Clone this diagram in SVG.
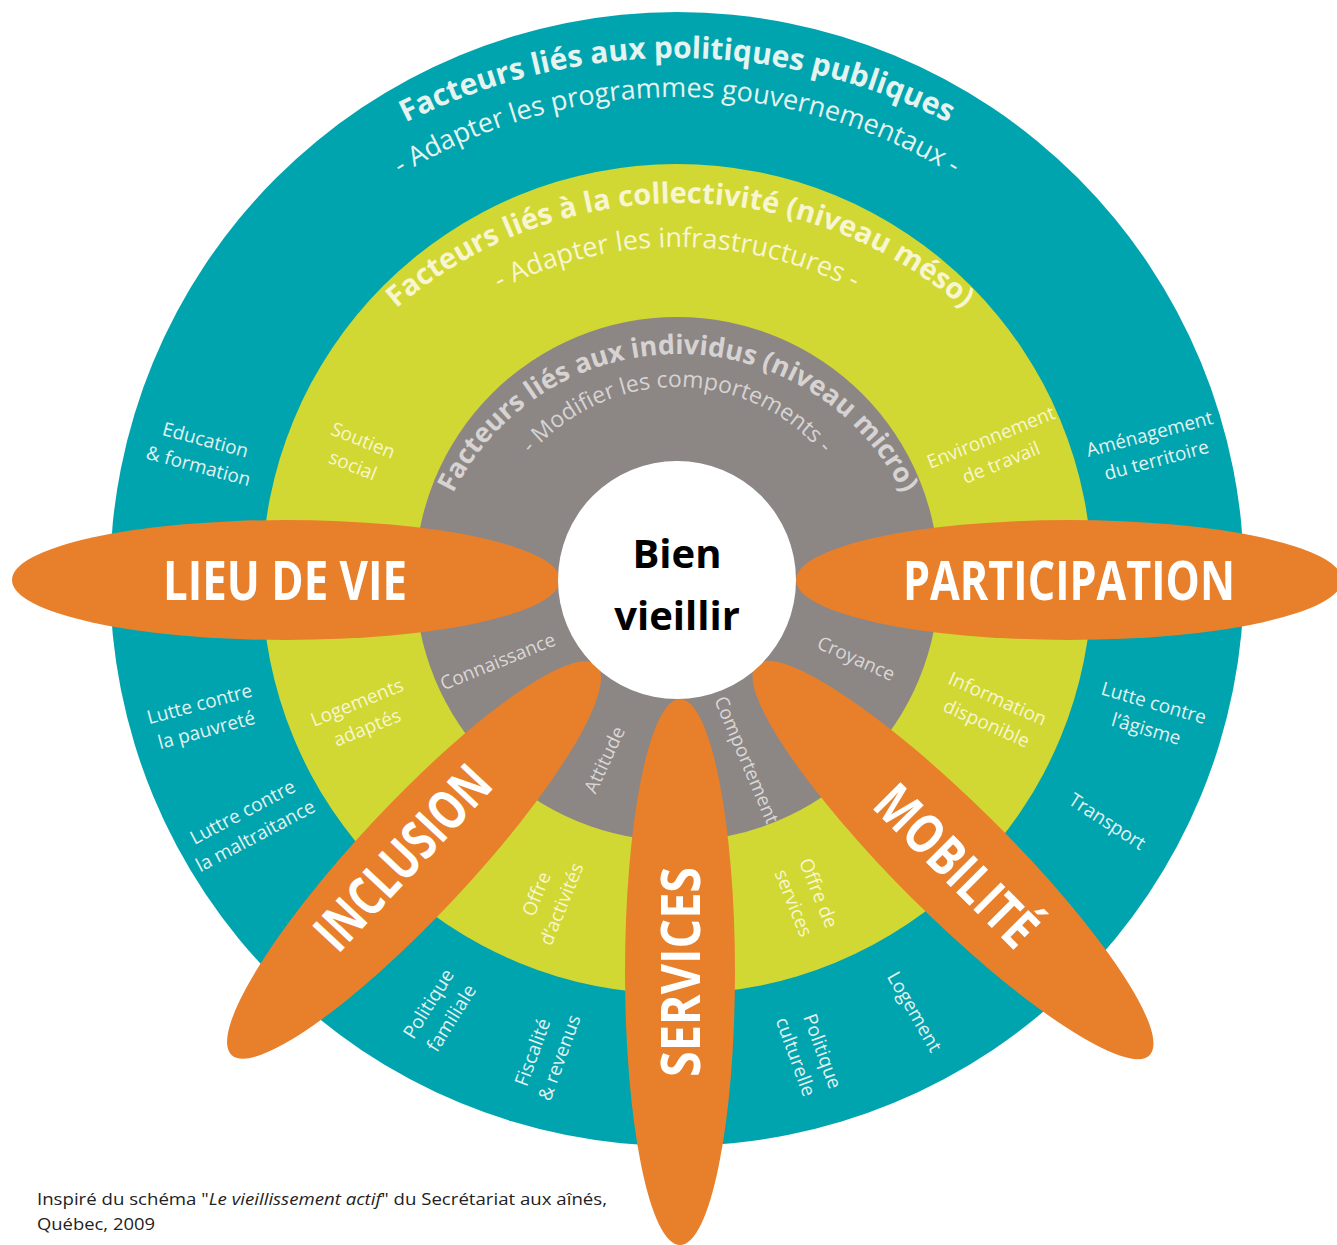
<svg xmlns="http://www.w3.org/2000/svg" width="1337" height="1245" viewBox="0 0 1337 1245">
<style>
.f{font-family:"Open Sans","DejaVu Sans",sans-serif}
.lt{font-family:"Open Sans","DejaVu Sans",sans-serif;font-size:19px;text-anchor:middle}
.tl{fill:#E3F2F1}
.yl{fill:#F7F6D0}
.gl{fill:#DAD7D6}
.petal{fill:#E8802B}
.pt{font-family:"Open Sans","DejaVu Sans",sans-serif;font-weight:700;fill:#FFFFFF;font-size:54px;text-anchor:middle}
.arc{text-anchor:middle}
</style>
<defs>
<path id="a1" d="M75,660 A602,602 0 0 1 1279,660"/>
<path id="a2" d="M148,626 A529,529 0 0 1 1206,626"/>
<path id="a3" d="M246,637 A434,434 0 0 1 1114,637"/>
<path id="a4" d="M287,637 A390,390 0 0 1 1067,637"/>
<path id="a5" d="M427,605 A251,251 0 0 1 929,605"/>
<path id="a6" d="M485,579 A192,192 0 0 1 869,579"/>
</defs>
<rect width="1337" height="1245" fill="#FFFFFF"/>

<g id="ring-politiques">
<circle cx="677" cy="579" r="567" fill="#00A4AE"/>
<text class="f arc" font-size="30" font-weight="700" fill="#E6F4F1"><textPath href="#a1" startOffset="50%">Facteurs liés aux politiques publiques</textPath></text>
<text class="f arc" font-size="27" fill="#E6F4F1"><textPath href="#a2" startOffset="50%">- Adapter les programmes gouvernementaux -</textPath></text>
</g>

<g id="ring-collectivite">
<circle cx="677" cy="579" r="415" fill="#D1D834"/>
<text class="f arc" font-size="29" font-weight="700" fill="#F7F6D0"><textPath href="#a3" startOffset="50%">Facteurs liés à la collectivité (niveau méso)</textPath></text>
<text class="f arc" font-size="27" fill="#F7F6D0"><textPath href="#a4" startOffset="50%">- Adapter les infrastructures -</textPath></text>
</g>

<g id="ring-individus">
<circle cx="677" cy="579" r="262" fill="#8C8685"/>
<text class="f arc" font-size="27" font-weight="700" fill="#D6D3D2"><textPath href="#a5" startOffset="50%">Facteurs liés aux individus (niveau micro)</textPath></text>
<text class="f arc" font-size="23" fill="#D6D3D2"><textPath href="#a6" startOffset="50%">- Modifier les comportements -</textPath></text>
</g>

<g id="labels-politiques">
<g transform="translate(202,453) rotate(15)"><text class="lt tl" y="-7">Education</text><text class="lt tl" y="20">&amp; formation</text></g>
<g transform="translate(1153,447) rotate(-15)"><text class="lt tl" y="-7">Aménagement</text><text class="lt tl" y="20">du territoire</text></g>
<g transform="translate(203,717) rotate(-15)"><text class="lt tl" y="-7">Lutte contre</text><text class="lt tl" y="20">la pauvreté</text></g>
<g transform="translate(249,824) rotate(-28)"><text class="lt tl" y="-7">Luttre contre</text><text class="lt tl" y="20">la maltraitance</text></g>
<g transform="translate(1150,716) rotate(16)"><text class="lt tl" y="-7">Lutte contre</text><text class="lt tl" y="20">l’âgisme</text></g>
<g transform="translate(1107,822) rotate(33)"><text class="lt tl" y="6">Transport</text></g>
<g transform="translate(440,1011) rotate(-58)"><text class="lt tl" y="-7">Politique</text><text class="lt tl" y="20">familiale</text></g>
<g transform="translate(546,1055) rotate(-70)"><text class="lt tl" x="-2" y="-7">Fiscalité</text><text class="lt tl" x="2" y="20">&amp; revenus</text></g>
<g transform="translate(809,1054) rotate(70)"><text class="lt tl" x="2" y="-7">Politique</text><text class="lt tl" x="-2" y="20">culturelle</text></g>
<g transform="translate(914,1012) rotate(60)"><text class="lt tl" y="6">Logement</text></g>
</g>

<g id="labels-collectivite">
<g transform="translate(358,453) rotate(22)"><text class="lt yl" y="-7">Soutien</text><text class="lt yl" y="20">social</text></g>
<g transform="translate(996,450) rotate(-22)"><text class="lt yl" y="-7">Environnement</text><text class="lt yl" y="20">de travail</text></g>
<g transform="translate(362,715) rotate(-22)"><text class="lt yl" y="-7">Logements</text><text class="lt yl" y="20">adaptés</text></g>
<g transform="translate(992,711) rotate(24)"><text class="lt yl" y="-7">Information</text><text class="lt yl" y="20">disponible</text></g>
<g transform="translate(549,899) rotate(-68)"><text class="lt yl" y="-7">Offre</text><text class="lt yl" y="20">d’activités</text></g>
<g transform="translate(806,898) rotate(68)"><text class="lt yl" y="-7">Offre de</text><text class="lt yl" y="20">services</text></g>
</g>

<g id="labels-individus">
<g transform="translate(498,662) rotate(-22)"><text class="lt gl" y="6">Connaissance</text></g>
<g transform="translate(856,659) rotate(24)"><text class="lt gl" y="6">Croyance</text></g>
<g transform="translate(605,760) rotate(-65)"><text class="lt gl" y="6">Attitude</text></g>
<g transform="translate(746,760) rotate(67)"><text class="lt gl" y="6">Comportement</text></g>
</g>

<g id="petal-lieu-de-vie">
<ellipse class="petal" cx="286" cy="580" rx="274" ry="60"/>
<text class="pt" x="285" y="600" textLength="244" lengthAdjust="spacingAndGlyphs">LIEU DE VIE</text>
</g>
<g id="petal-participation">
<ellipse class="petal" cx="1069" cy="580" rx="273" ry="60"/>
<text class="pt" x="1069" y="600" textLength="332" lengthAdjust="spacingAndGlyphs">PARTICIPATION</text>
</g>
<g id="petal-inclusion">
<ellipse class="petal" cx="414" cy="860" rx="267" ry="56" transform="rotate(-46.9 414 860)"/>
<text class="pt" transform="translate(402,857) rotate(-46.9)" y="20" textLength="230" lengthAdjust="spacingAndGlyphs">INCLUSION</text>
</g>
<g id="petal-services">
<ellipse class="petal" cx="680" cy="972" rx="55" ry="273"/>
<text class="pt" transform="translate(679,972) rotate(-90)" y="21" textLength="210" lengthAdjust="spacingAndGlyphs">SERVICES</text>
</g>
<g id="petal-mobilite">
<ellipse class="petal" cx="953" cy="860" rx="277" ry="56" transform="rotate(44.8 953 860)"/>
<text class="pt" transform="translate(957,865) rotate(45)" y="20" textLength="205" lengthAdjust="spacingAndGlyphs">MOBILITÉ</text>
</g>

<g id="center-bien-vieillir">
<circle cx="677" cy="580" r="119" fill="#FFFFFF"/>
<text class="f" x="677" y="568" font-size="40" font-weight="700" fill="#000" text-anchor="middle">Bien</text>
<text class="f" x="677" y="630" font-size="40" font-weight="700" fill="#000" text-anchor="middle">vieillir</text>
</g>

<g id="connectors"></g>

<g id="caption">
<text class="f" x="37" y="1205" font-size="16.5" fill="#222" textLength="570" lengthAdjust="spacingAndGlyphs">Inspiré du schéma "<tspan font-style="italic">Le vieillissement actif</tspan>" du Secrétariat aux aînés,</text>
<text class="f" x="37" y="1230" font-size="16.5" fill="#222" textLength="118" lengthAdjust="spacingAndGlyphs">Québec, 2009</text>
</g>
</svg>
